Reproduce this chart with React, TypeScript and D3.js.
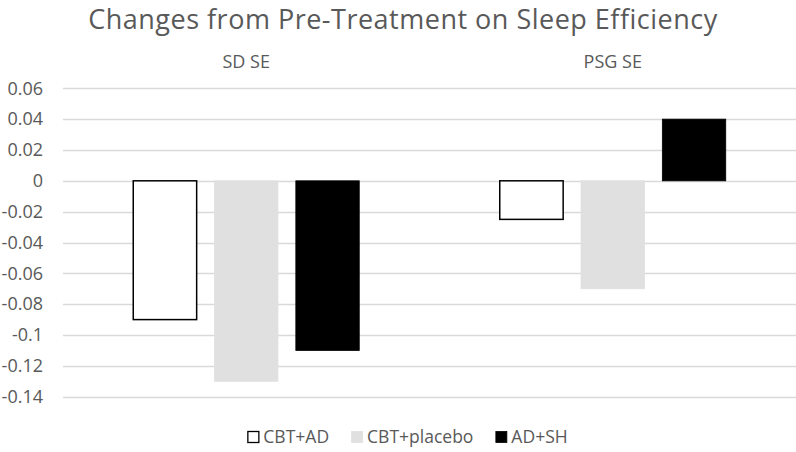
import React, { useEffect, useRef } from "react";
import * as d3 from "d3";

const categories = ["SD SE", "PSG SE"];
const seriesNames = ["CBT+AD", "CBT+placebo", "AD+SH"];
const cbtAd = [-0.09, -0.025];
const cbtPlacebo = [-0.13, -0.07];
const adSh = [-0.11, 0.04];
const yTicks = [0.06, 0.04, 0.02, 0, -0.02, -0.04, -0.06, -0.08, -0.1, -0.12, -0.14];
const title = "Changes from Pre-Treatment on Sleep Efficiency";

const W = 796;
const H = 452;
const FONT = "'Open Sans', sans-serif";
const TEXT = "#595959";

export default function App() {
  const ref = useRef<SVGSVGElement | null>(null);

  useEffect(() => {
    const svg = d3.select(ref.current);
    svg.selectAll("*").remove();

    const values = [cbtAd, cbtPlacebo, adSh];
    const fills = ["#ffffff", "#e0e0e0", "#000000"];
    const strokes = ["#000000", "#e0e0e0", "#000000"];

    const plotLeft = 63;
    const plotRight = 796;
    const y = d3.scaleLinear().domain([-0.14, 0.06]).range([396.7, 88.3]);
    const x0 = d3.scaleBand<string>().domain(categories).range([plotLeft, plotRight]);
    const groupW = 226;
    const off = (x0.bandwidth() - groupW) / 2;
    const x1 = d3
      .scaleBand<string>()
      .domain(seriesNames)
      .range([off, off + groupW])
      .paddingInner(0.22);

    // title
    svg
      .append("text")
      .attr("x", 403)
      .attr("y", 29)
      .attr("text-anchor", "middle")
      .attr("font-family", FONT)
      .attr("font-size", 27)
      .attr("letter-spacing", 0.5)
      .attr("fill", TEXT)
      .text(title);

    // gridlines
    svg
      .append("g")
      .selectAll("line")
      .data(yTicks)
      .join("line")
      .attr("x1", plotLeft)
      .attr("x2", plotRight)
      .attr("y1", (d) => Math.round(y(d)) + 0.5)
      .attr("y2", (d) => Math.round(y(d)) + 0.5)
      .attr("stroke", "#d9d9d9")
      .attr("stroke-width", 1.3);

    // tick labels
    svg
      .append("g")
      .selectAll("text")
      .data(yTicks)
      .join("text")
      .attr("x", 43)
      .attr("y", (d) => y(d))
      .attr("dy", "0.35em")
      .attr("text-anchor", "end")
      .attr("font-family", FONT)
      .attr("font-size", 18)
      .attr("fill", TEXT)
      .text((d) => String(d));

    // category labels
    svg
      .append("g")
      .selectAll("text")
      .data(categories)
      .join("text")
      .attr("x", (d) => (x0(d) as number) + x0.bandwidth() / 2)
      .attr("y", 62)
      .attr("dy", "0.35em")
      .attr("text-anchor", "middle")
      .attr("font-family", FONT)
      .attr("font-size", 18)
      .attr("fill", TEXT)
      .text((d) => d);

    // bars
    seriesNames.forEach((s, si) => {
      const sw = si === 0 ? 1.5 : 0.8;
      svg
        .append("g")
        .selectAll("rect")
        .data(categories.map((c, ci) => ({ c, v: values[si][ci] })))
        .join("rect")
        .attr("x", (d) => (x0(d.c) as number) + (x1(s) as number))
        .attr("width", x1.bandwidth())
        .attr("y", (d) => Math.min(y(d.v), y(0)))
        .attr("height", (d) => Math.abs(y(d.v) - y(0)))
        .attr("fill", fills[si])
        .attr("stroke", strokes[si])
        .attr("stroke-width", sw);
    });

    // legend
    const lg = svg.append("g");
    const items = seriesNames.map((s, i) => {
      const g = lg.append("g");
      g.append("rect")
        .attr("x", 0.5)
        .attr("y", -11.5)
        .attr("width", 11)
        .attr("height", 11)
        .attr("fill", fills[i])
        .attr("stroke", strokes[i])
        .attr("stroke-width", i === 0 ? 1.3 : 0.8);
      const t = g
        .append("text")
        .attr("x", 16)
        .attr("y", 0)
        .attr("font-family", FONT)
        .attr("font-size", 17.5)
        .attr("fill", TEXT)
        .text(s);
      const tw = (t.node() as SVGTextElement).getComputedTextLength();
      return { g, w: 16 + tw };
    });
    const gap = 22;
    const total = items.reduce((a, b) => a + b.w, 0) + gap * (items.length - 1);
    let cx = 407.5 - total / 2;
    items.forEach((it) => {
      it.g.attr("transform", `translate(${cx},443)`);
      cx += it.w + gap;
    });
  }, []);

  return (
    <svg
      ref={ref}
      width={W}
      height={H}
      style={{ position: "absolute", left: 0, top: 0, background: "#fff" }}
    />
  );
}
